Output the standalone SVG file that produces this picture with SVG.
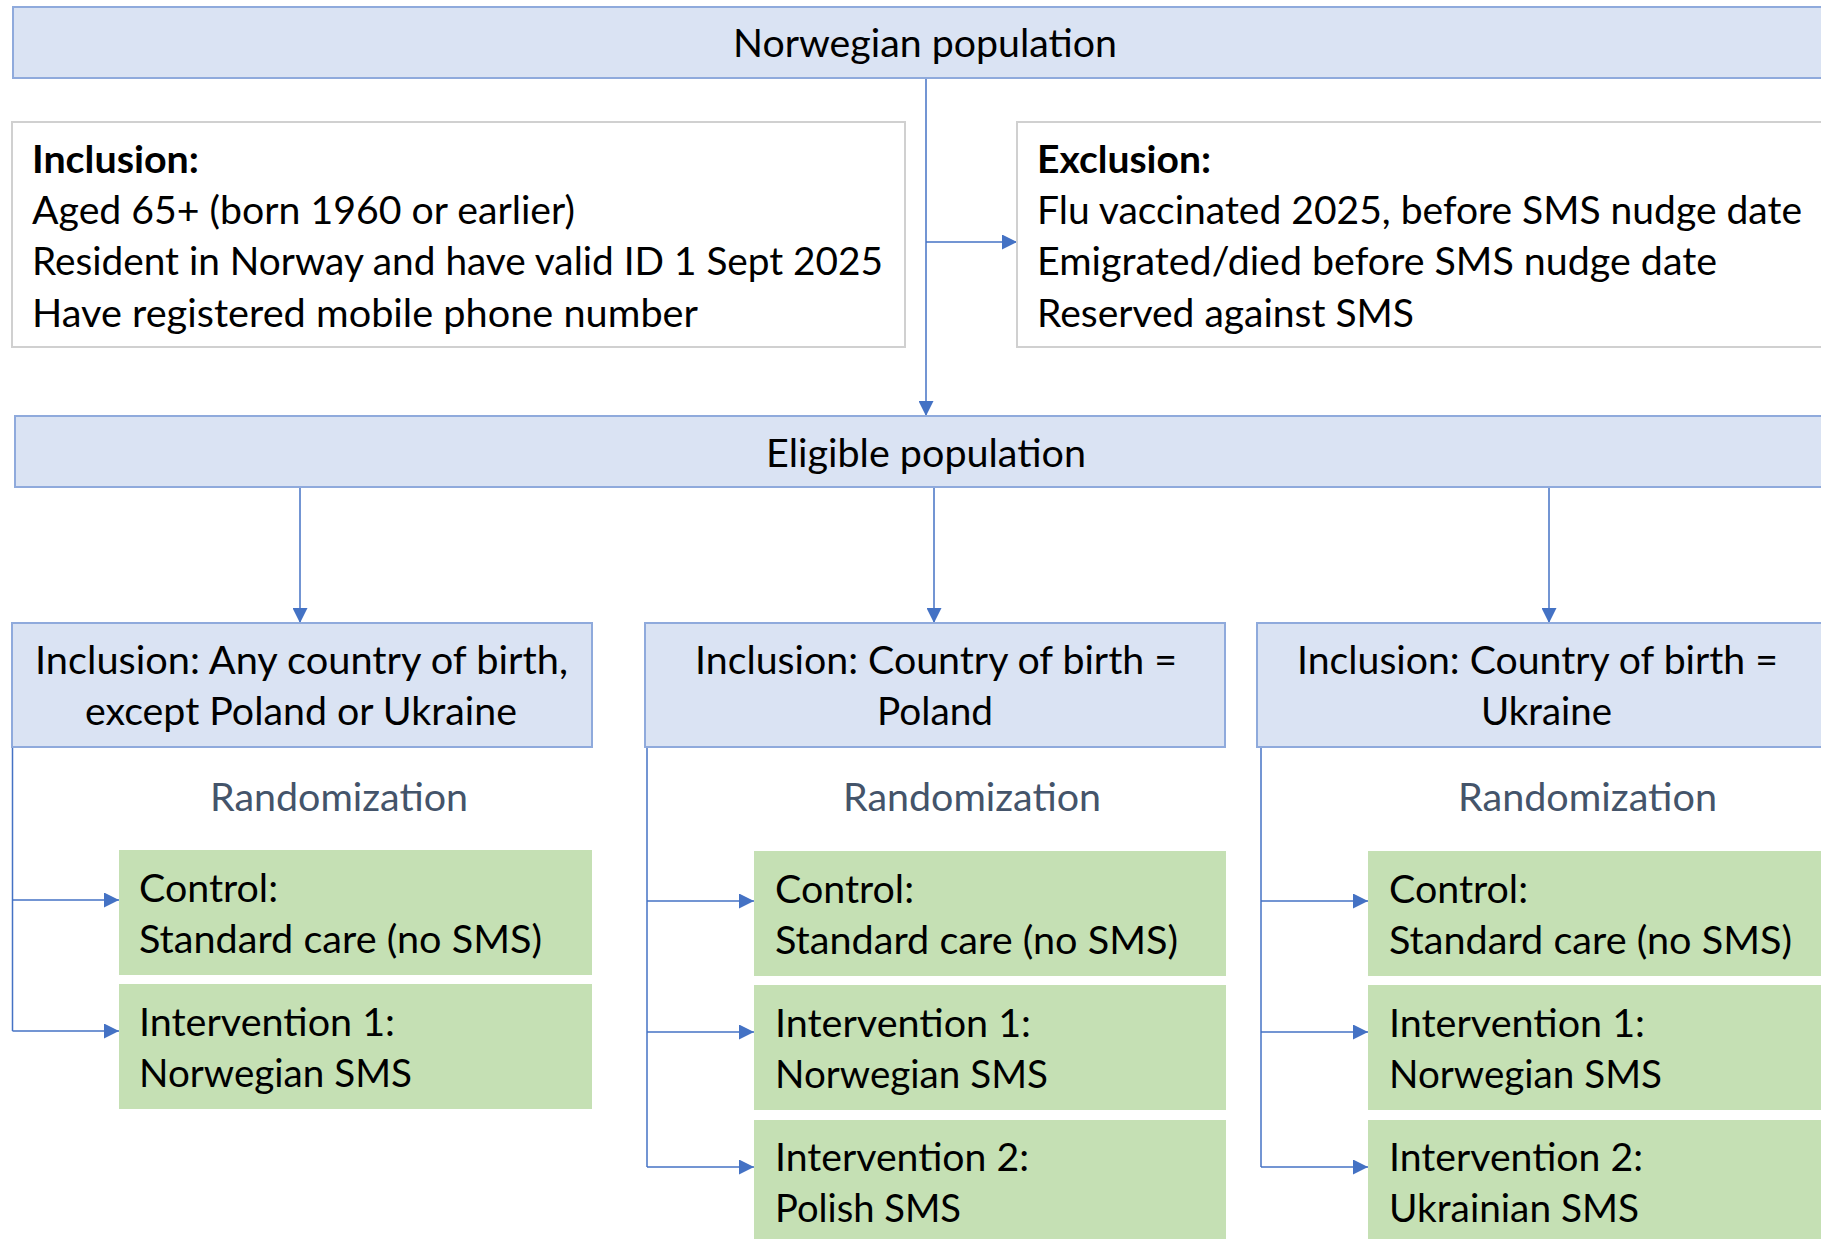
<svg xmlns="http://www.w3.org/2000/svg" width="1821" height="1239" viewBox="0 0 1821 1239">
  <defs>
    <style>
      text { font-family: Lato, "Open Sans", "Liberation Sans", sans-serif; font-size: 38px; fill: #000; }
      .b { font-weight: bold; }
      .rand { fill: #44546A; }
      .blue { fill: #DAE3F3; stroke: #8FAADC; stroke-width: 2; }
      .grey { fill: #FFFFFF; stroke: #D0D0D0; stroke-width: 2; }
      .green { fill: #C5E0B4; stroke: none; }
      .conn { fill: none; stroke: #4472C4; stroke-width: 1.5; }
      .arr { marker-end: url(#ah); }
    </style>
    <marker id="ah" markerUnits="userSpaceOnUse" markerWidth="15" markerHeight="15" refX="15" refY="7.5" orient="auto">
      <path d="M0,0 L15,7.5 L0,15 Z" fill="#4472C4"/>
    </marker>
  </defs>
  <rect width="1821" height="1239" fill="#FFFFFF"/>

  <!-- connectors -->
  <g id="connectors">
    <path class="conn arr" d="M926,78 V416"/>
    <path class="conn arr" d="M926,242 H1017"/>
    <path class="conn arr" d="M300,488 V623"/>
    <path class="conn arr" d="M934,488 V623"/>
    <path class="conn arr" d="M1549,488 V623"/>

    <path class="conn" d="M12.5,747 V1031"/>
    <path class="conn arr" d="M12.5,900 H119"/>
    <path class="conn arr" d="M12.5,1031 H119"/>

    <path class="conn" d="M647,747 V1167"/>
    <path class="conn arr" d="M647,901 H754"/>
    <path class="conn arr" d="M647,1032 H754"/>
    <path class="conn arr" d="M647,1167 H754"/>

    <path class="conn" d="M1261,747 V1167"/>
    <path class="conn arr" d="M1261,901 H1368"/>
    <path class="conn arr" d="M1261,1032 H1368"/>
    <path class="conn arr" d="M1261,1167 H1368"/>
  </g>

  <g id="norwegian-population">
    <rect class="blue" x="13" y="7" width="1830" height="71"/>
    <text x="733" y="57" textLength="384" lengthAdjust="spacingAndGlyphs">Norwegian population</text>
  </g>

  <g id="inclusion">
    <rect class="grey" x="12" y="122" width="893" height="225"/>
    <text class="b" x="32" y="173" textLength="167" lengthAdjust="spacingAndGlyphs">Inclusion:</text>
    <text x="32" y="224" textLength="543" lengthAdjust="spacingAndGlyphs">Aged 65+ (born 1960 or earlier)</text>
    <text x="32" y="275" textLength="851" lengthAdjust="spacingAndGlyphs">Resident in Norway and have valid ID 1 Sept 2025</text>
    <text x="32" y="327" textLength="666" lengthAdjust="spacingAndGlyphs">Have registered mobile phone number</text>
  </g>

  <g id="exclusion">
    <rect class="grey" x="1017" y="122" width="830" height="225"/>
    <text class="b" x="1037" y="173" textLength="174" lengthAdjust="spacingAndGlyphs">Exclusion:</text>
    <text x="1037" y="224" textLength="765" lengthAdjust="spacingAndGlyphs">Flu vaccinated 2025, before SMS nudge date</text>
    <text x="1037" y="275" textLength="680" lengthAdjust="spacingAndGlyphs">Emigrated/died before SMS nudge date</text>
    <text x="1037" y="327" textLength="377" lengthAdjust="spacingAndGlyphs">Reserved against SMS</text>
  </g>

  <g id="eligible-population">
    <rect class="blue" x="15" y="416" width="1830" height="71"/>
    <text x="766" y="467" textLength="320" lengthAdjust="spacingAndGlyphs">Eligible population</text>
  </g>

  <!-- subgroup: any country except Poland / Ukraine -->
  <g id="group-other">
    <rect class="blue" x="12" y="623" width="580" height="124"/>
    <text x="35" y="674" textLength="533" lengthAdjust="spacingAndGlyphs">Inclusion: Any country of birth,</text>
    <text x="85" y="725" textLength="432" lengthAdjust="spacingAndGlyphs">except Poland or Ukraine</text>
    <text class="rand" x="210" y="811" textLength="258" lengthAdjust="spacingAndGlyphs">Randomization</text>
  </g>
  <g id="other-control">
    <rect class="green" x="119" y="850" width="473" height="125"/>
    <text x="139" y="902" textLength="139" lengthAdjust="spacingAndGlyphs">Control:</text>
    <text x="139" y="953" textLength="403" lengthAdjust="spacingAndGlyphs">Standard care (no SMS)</text>
  </g>
  <g id="other-intervention1">
    <rect class="green" x="119" y="984" width="473" height="125"/>
    <text x="139" y="1036" textLength="256" lengthAdjust="spacingAndGlyphs">Intervention 1:</text>
    <text x="139" y="1087" textLength="273" lengthAdjust="spacingAndGlyphs">Norwegian SMS</text>
  </g>

  <!-- subgroup: born in Poland -->
  <g id="group-poland">
    <rect class="blue" x="645" y="623" width="580" height="124"/>
    <text x="695" y="674" textLength="482" lengthAdjust="spacingAndGlyphs">Inclusion: Country of birth =</text>
    <text x="877" y="725" textLength="116" lengthAdjust="spacingAndGlyphs">Poland</text>
    <text class="rand" x="843" y="811" textLength="258" lengthAdjust="spacingAndGlyphs">Randomization</text>
  </g>
  <g id="poland-control">
    <rect class="green" x="754" y="851" width="472" height="125"/>
    <text x="775" y="903" textLength="139" lengthAdjust="spacingAndGlyphs">Control:</text>
    <text x="775" y="954" textLength="403" lengthAdjust="spacingAndGlyphs">Standard care (no SMS)</text>
  </g>
  <g id="poland-intervention1">
    <rect class="green" x="754" y="985" width="472" height="125"/>
    <text x="775" y="1037" textLength="256" lengthAdjust="spacingAndGlyphs">Intervention 1:</text>
    <text x="775" y="1088" textLength="273" lengthAdjust="spacingAndGlyphs">Norwegian SMS</text>
  </g>
  <g id="poland-intervention2">
    <rect class="green" x="754" y="1120" width="472" height="130"/>
    <text x="775" y="1171" textLength="254" lengthAdjust="spacingAndGlyphs">Intervention 2:</text>
    <text x="775" y="1222" textLength="186" lengthAdjust="spacingAndGlyphs">Polish SMS</text>
  </g>

  <!-- subgroup: born in Ukraine -->
  <g id="group-ukraine">
    <rect class="blue" x="1257" y="623" width="590" height="124"/>
    <text x="1297" y="674" textLength="481" lengthAdjust="spacingAndGlyphs">Inclusion: Country of birth =</text>
    <text x="1481" y="725" textLength="131" lengthAdjust="spacingAndGlyphs">Ukraine</text>
    <text class="rand" x="1458" y="811" textLength="259" lengthAdjust="spacingAndGlyphs">Randomization</text>
  </g>
  <g id="ukraine-control">
    <rect class="green" x="1368" y="851" width="470" height="125"/>
    <text x="1389" y="903" textLength="139" lengthAdjust="spacingAndGlyphs">Control:</text>
    <text x="1389" y="954" textLength="403" lengthAdjust="spacingAndGlyphs">Standard care (no SMS)</text>
  </g>
  <g id="ukraine-intervention1">
    <rect class="green" x="1368" y="985" width="470" height="125"/>
    <text x="1389" y="1037" textLength="256" lengthAdjust="spacingAndGlyphs">Intervention 1:</text>
    <text x="1389" y="1088" textLength="273" lengthAdjust="spacingAndGlyphs">Norwegian SMS</text>
  </g>
  <g id="ukraine-intervention2">
    <rect class="green" x="1368" y="1120" width="470" height="130"/>
    <text x="1389" y="1171" textLength="254" lengthAdjust="spacingAndGlyphs">Intervention 2:</text>
    <text x="1389" y="1222" textLength="250" lengthAdjust="spacingAndGlyphs">Ukrainian SMS</text>
  </g>
</svg>
